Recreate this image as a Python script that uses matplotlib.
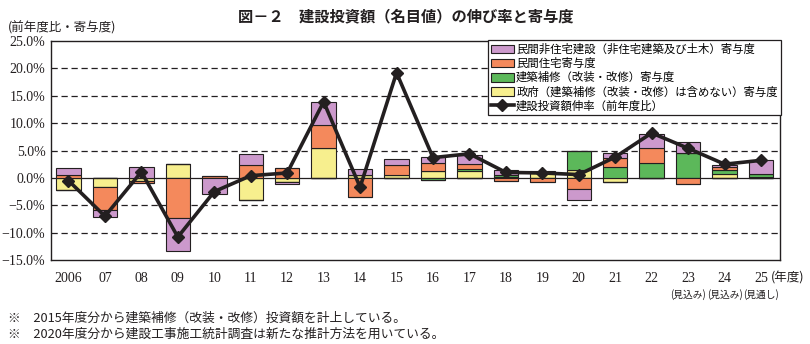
import matplotlib
matplotlib.use("Agg")
import matplotlib.pyplot as plt
from matplotlib.patches import Patch
from matplotlib.lines import Line2D
import numpy as np

plt.rcParams['font.family'] = ['Noto Sans CJK JP', 'DejaVu Sans']

years = ["2006", "07", "08", "09", "10", "11", "12", "13", "14", "15",
         "16", "17", "18", "19", "20", "21", "22", "23", "24", "25"]
sub_labels = {17: "(見込み)", 18: "(見込み)", 19: "(見通し)"}

gov = [-2.3, -1.6, -0.5, 2.6, 0.0, -4.0, -0.7, 5.4, 0.5, 0.5,
       1.2, 1.3, 0.2, 0.8, 1.5, -0.7, 0.0, 0.0, 0.7, 0.1]
repair = [0.0, 0.0, 0.0, 0.0, 0.0, 0.0, 0.0, 0.0, 0.0, 0.0,
          -0.4, 0.4, 0.4, 0.1, 3.5, 2.0, 2.8, 4.5, 0.8, 0.6]
res = [0.5, -4.2, -0.4, -7.4, 0.3, 2.4, 1.8, 4.2, -3.5, 1.8,
       1.5, 0.9, -0.5, -0.7, -2.0, 1.6, 2.6, -1.2, 0.4, 0.0]
nonres = [1.3, -1.3, 1.9, -6.0, -2.9, 1.9, -0.4, 4.2, 1.2, 1.2,
          1.2, 1.6, 0.8, 0.3, -2.1, 0.9, 2.7, 2.1, 0.4, 2.6]
growth = [-0.5, -7.0, 1.1, -10.8, -2.5, 0.4, 0.9, 13.9, -1.7, 19.2,
          3.7, 4.4, 1.0, 0.9, 0.6, 3.8, 8.2, 5.4, 2.5, 3.2]

labels = ["民間非住宅建設（非住宅建築及び土木）寄与度",
          "民間住宅寄与度",
          "建築補修（改装・改修）寄与度",
          "政府（建築補修（改装・改修）は含めない）寄与度",
          "建設投資額伸率（前年度比）"]
c_purple = "#cc99cc"
c_orange = "#f4895c"
c_green = "#5cb85a"
c_yellow = "#f7ef8e"
ink = "#231f20"

fig = plt.figure(figsize=(8.1, 3.44), dpi=100)
ax = fig.add_axes([51/810, 1-260/344, 729/810, 219/344])

x = np.arange(len(years))
w = 0.67
pos_base = np.zeros(len(years))
neg_base = np.zeros(len(years))
for vals, col in [(gov, c_yellow), (repair, c_green), (res, c_orange), (nonres, c_purple)]:
    v = np.array(vals)
    pv = np.where(v > 0, v, 0)
    nv = np.where(v < 0, v, 0)
    ax.bar(x, pv, w, bottom=pos_base, color=col, edgecolor=ink, linewidth=0.8, zorder=3)
    ax.bar(x, nv, w, bottom=neg_base, color=col, edgecolor=ink, linewidth=0.8, zorder=3)
    pos_base += pv
    neg_base += nv

ax.plot(x, growth, color=ink, linewidth=2.6, marker="D", markersize=6.5, zorder=5)

ax.set_xlim(-0.48, 19.52)
ax.set_ylim(-15, 25)
yt = np.arange(-15, 26, 5)
ax.set_yticks(yt)
ax.set_yticklabels([("−" if v < 0 else "") + f"{abs(v):.1f}%" for v in yt],
                   family=['Liberation Serif'], fontsize=10, color=ink)
for v in yt:
    if v not in (-15, 25, 0):
        ax.axhline(v, color=ink, linestyle=(0, (5, 3)), linewidth=0.9, zorder=1)
ax.axhline(0, color=ink, linewidth=0.9, zorder=2)
ax.set_xticks(x)
ax.set_xticklabels(years, family=['Liberation Serif'], fontsize=10, color=ink)
ax.tick_params(axis='y', length=0, pad=4)
ax.tick_params(axis='x', length=0, pad=9)
for s in ax.spines.values():
    s.set_color(ink)
    s.set_linewidth(1.0)

for i, t in sub_labels.items():
    ax.annotate(t, xy=(x[i], 0), xycoords=('data', 'axes fraction'), xytext=(0, -25),
                textcoords='offset points', ha='center', va='center', fontsize=7, color=ink)
ax.annotate("(年度)", xy=(x[19], 0), xycoords=('data', 'axes fraction'), xytext=(7, -13),
            textcoords='offset points', ha='left', va='center', fontsize=9, color=ink)

handles = [Patch(facecolor=c_purple, edgecolor=ink, linewidth=0.8),
           Patch(facecolor=c_orange, edgecolor=ink, linewidth=0.8),
           Patch(facecolor=c_green, edgecolor=ink, linewidth=0.8),
           Patch(facecolor=c_yellow, edgecolor=ink, linewidth=0.8),
           Line2D([0], [0], color=ink, linewidth=2.6, marker="D", markersize=6.5)]
leg = ax.legend(handles, labels, loc='upper left', bbox_to_anchor=(0.599, 1.003),
                borderaxespad=0, fancybox=False, framealpha=1, edgecolor=ink,
                fontsize=8.2, handlelength=2.0, handleheight=0.8, labelspacing=0.25,
                handletextpad=0.2, borderpad=0.3)
leg.get_frame().set_linewidth(0.9)
leg.set_zorder(10)

fig.text(406/810, 1-16/344, "図－２　建設投資額（名目値）の伸び率と寄与度", ha='center', va='center',
         fontsize=11, fontweight='bold', color=ink)
fig.text(8/810, 1-28/344, "(前年度比・寄与度)", ha='left', va='center', fontsize=9, color=ink)
fig.text(8/810, 1-318/344, "※　2015年度分から建築補修（改装・改修）投資額を計上している。", ha='left', va='center',
         fontsize=9.2, color=ink)
fig.text(8/810, 1-334/344, "※　2020年度分から建設工事施工統計調査は新たな推計方法を用いている。", ha='left', va='center',
         fontsize=9.2, color=ink)

fig.savefig("out.png", dpi=100)
